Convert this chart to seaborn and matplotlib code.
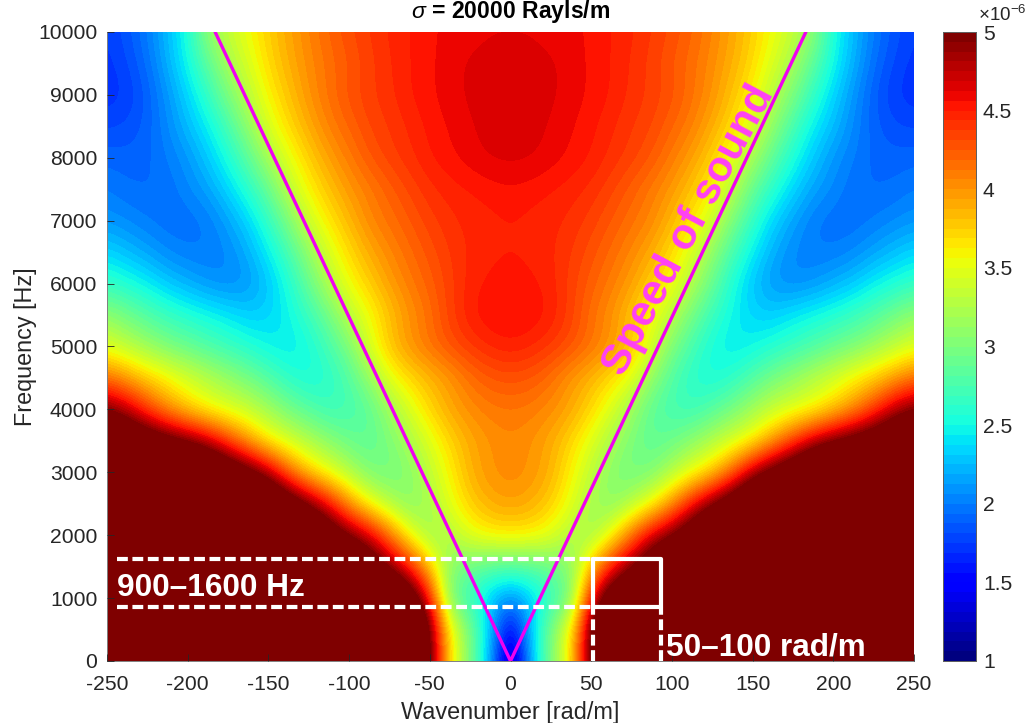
# Wavenumber-frequency map, sigma = 20000 Rayls/m
import numpy as np
import seaborn as sns
import matplotlib.pyplot as plt

# half of the map, the other side is the mirror image (values above 5 saturate on the scale)
k_half = [0, 12.5, 25, 37.5, 50, 62.5, 75, 87.5, 100, 112.5, 125, 137.5, 150, 162.5, 175, 187.5, 200, 212.5, 225, 237.5, 250]
freqs = [10000, 9500, 9000, 8500, 8000, 7500, 7000, 6500, 6000, 5500, 5000, 4500, 4000, 3500, 3000, 2500, 2000, 1500, 1000, 500, 0]

f10000 = [4.62, 4.62, 4.6, 4.58, 4.55, 4.5, 4.45, 4.38, 4.3, 4.2, 4.07, 3.92, 3.75, 3.55, 3.35, 3.1, 2.55, 2.25, 2.0, 1.85, 1.75]
f9500 = [4.65, 4.65, 4.64, 4.6, 4.55, 4.5, 4.43, 4.35, 4.25, 4.15, 4.03, 3.88, 3.7, 3.45, 3.2, 2.85, 2.5, 2.2, 1.95, 1.8, 1.72]
f9000 = [4.66, 4.66, 4.64, 4.6, 4.55, 4.5, 4.42, 4.36, 4.28, 4.15, 4.0, 3.8, 3.6, 3.3, 3.0, 2.65, 2.35, 2.1, 1.88, 1.75, 1.7]
f8500 = [4.66, 4.65, 4.62, 4.57, 4.52, 4.45, 4.38, 4.32, 4.2, 4.08, 3.9, 3.7, 3.45, 3.1, 2.75, 2.45, 2.25, 2.05, 1.9, 1.82, 1.8]
f8000 = [4.65, 4.64, 4.6, 4.55, 4.5, 4.42, 4.35, 4.25, 4.1, 3.95, 3.75, 3.5, 3.2, 2.85, 2.55, 2.3, 2.1, 2.0, 1.92, 1.9, 1.92]
f7500 = [4.55, 4.53, 4.5, 4.47, 4.42, 4.33, 4.22, 4.1, 3.98, 3.8, 3.6, 3.3, 2.9, 2.6, 2.35, 2.15, 2.05, 1.95, 1.93, 1.95, 2.0]
f7000 = [4.5, 4.48, 4.46, 4.42, 4.35, 4.25, 4.15, 4.05, 3.85, 3.65, 3.4, 3.0, 2.65, 2.35, 2.15, 2.0, 1.95, 1.95, 2.0, 2.05, 2.1]
f6500 = [4.5, 4.48, 4.45, 4.38, 4.28, 4.17, 4.05, 3.9, 3.7, 3.45, 3.1, 2.75, 2.45, 2.2, 2.05, 2.0, 2.0, 2.05, 2.15, 2.25, 2.35]
f6000 = [4.54, 4.52, 4.47, 4.35, 4.22, 4.1, 3.95, 3.75, 3.55, 3.25, 2.9, 2.55, 2.28, 2.1, 2.05, 2.1, 2.2, 2.3, 2.45, 2.55, 2.65]
f5500 = [4.57, 4.56, 4.5, 4.35, 4.15, 4.0, 3.8, 3.55, 3.3, 2.95, 2.68, 2.48, 2.34, 2.32, 2.42, 2.5, 2.58, 2.68, 2.8, 2.95, 3.1]
f5000 = [4.5, 4.46, 4.38, 4.28, 4.15, 4.0, 3.8, 3.45, 3.0, 2.75, 2.52, 2.42, 2.48, 2.58, 2.68, 2.78, 2.9, 3.0, 3.15, 3.3, 3.45]
f4500 = [4.28, 4.25, 4.15, 3.98, 3.85, 3.7, 3.5, 3.1, 2.8, 2.6, 2.52, 2.62, 2.8, 2.98, 3.12, 3.28, 3.42, 3.6, 3.75, 3.95, 4.15]
f4000 = [4.12, 4.1, 4.03, 3.92, 3.72, 3.45, 3.15, 2.85, 2.72, 2.68, 2.82, 2.98, 3.18, 3.35, 3.45, 3.55, 3.75, 4.0, 4.35, 4.75, 5.0]
f3500 = [4.05, 4.0, 3.9, 3.72, 3.47, 3.22, 3.0, 2.85, 2.92, 3.08, 3.25, 3.42, 3.6, 3.95, 4.35, 4.75, 5.0, 5.2, 5.4, 5.6, 5.8]
f3000 = [4.05, 4.0, 3.88, 3.6, 3.33, 3.05, 2.95, 3.0, 3.25, 3.5, 3.75, 4.2, 4.8, 5.2, 5.5, 5.8, 6, 6, 6, 6, 6]
f2500 = [3.95, 3.9, 3.75, 3.5, 3.2, 3.05, 3.25, 3.55, 4.0, 4.55, 5.0, 5.4, 5.8, 6, 6, 6, 6, 6, 6, 6, 6]
f2000 = [3.65, 3.62, 3.5, 3.25, 3.15, 3.55, 4.15, 4.7, 5.0, 5.4, 5.8, 6, 6, 6, 6, 6, 6, 6, 6, 6, 6]
f1500 = [2.8, 2.83, 2.92, 3.05, 3.8, 4.5, 4.95, 5.4, 5.8, 6, 6, 6, 6, 6, 6, 6, 6, 6, 6, 6, 6]
f1000 = [2.05, 2.3, 2.65, 2.95, 4.55, 5.4, 5.8, 6, 6, 6, 6, 6, 6, 6, 6, 6, 6, 6, 6, 6, 6]
f500 = [1.35, 2.3, 3.0, 3.6, 5.1, 6, 6, 6, 6, 6, 6, 6, 6, 6, 6, 6, 6, 6, 6, 6, 6]
f0 = [1.0, 2.2, 3.0, 3.65, 5.1, 6, 6, 6, 6, 6, 6, 6, 6, 6, 6, 6, 6, 6, 6, 6, 6]

half = np.array([f10000, f9500, f9000, f8500, f8000, f7500, f7000, f6500, f6000, f5500,
                 f5000, f4500, f4000, f3500, f3000, f2500, f2000, f1500, f1000, f500, f0])
Z = np.hstack([half[:, :0:-1], half])
kx = np.concatenate([-np.array(k_half[:0:-1]), k_half])

x_ticks = [-250, -200, -150, -100, -50, 0, 50, 100, 150, 200, 250]
y_ticks = [0, 1000, 2000, 3000, 4000, 5000, 6000, 7000, 8000, 9000, 10000]
cbar_ticks = [1, 1.5, 2, 2.5, 3, 3.5, 4, 4.5, 5]
sound_k = [-183, 0, 183]
sound_f = [10000, 0, 10000]

dark = "#262626"
sns.set_theme(style="white")
plt.rcParams["font.family"] = ["Liberation Sans", "DejaVu Sans"]
plt.rcParams["mathtext.fontset"] = "custom"
plt.rcParams["mathtext.rm"] = "Liberation Sans"
plt.rcParams["mathtext.it"] = "Liberation Sans:italic"
plt.rcParams["mathtext.bf"] = "Liberation Sans:bold"


# heatmap cells sit at i + 0.5
def xpos(k):
    return (np.asarray(k, dtype=float) - kx[0]) / 12.5 + 0.5


def ypos(f):
    return (freqs[0] - np.asarray(f, dtype=float)) / 500 + 0.5


W, H = 1026, 723
fig = plt.figure(figsize=(W / 100, H / 100), dpi=100)
ax = fig.add_axes([107 / W, 1 - 661 / H, 807 / W, 629 / H])
cax = fig.add_axes([943 / W, 1 - 661 / H, 33 / W, 629 / H])

cmap = plt.get_cmap("jet", 64)
sns.heatmap(Z, ax=ax, cbar_ax=cax, cmap=cmap, vmin=1, vmax=5, xticklabels=False, yticklabels=False,
            cbar_kws={"ticks": cbar_ticks})
# same cells, smoothed
ax.imshow(Z, cmap=cmap, vmin=1, vmax=5, aspect="auto", interpolation="bicubic",
          extent=(0, Z.shape[1], Z.shape[0], 0), zorder=1)

ax.set_axisbelow(False)
ax.set_xlim(xpos(-250), xpos(250))
ax.set_ylim(ypos(0), ypos(10000))
ax.set_xticks(xpos(x_ticks))
ax.set_xticklabels(x_ticks, fontsize=15.2, color=dark, rotation=0)
ax.set_yticks(ypos(y_ticks))
ax.set_yticklabels(y_ticks, fontsize=15.2, color=dark, rotation=0)
ax.tick_params(axis="x", direction="in", length=5, width=0.6, color=dark, pad=10, bottom=True)
ax.tick_params(axis="y", direction="in", length=5, width=0.6, color=dark, pad=7, left=True)
ax.set_xlabel("Wavenumber [rad/m]", fontsize=16.9, color=dark, labelpad=5)
ax.set_ylabel("Frequency [Hz]", fontsize=16.8, color=dark, labelpad=1)
ax.set_title(r"$\sigma$ = 20000 Rayls/m", fontsize=16.6, fontweight="bold", color="black", pad=10)
for s in ["left", "bottom"]:
    ax.spines[s].set_visible(True)
    ax.spines[s].set_color("#808080")
    ax.spines[s].set_linewidth(0.7)

cax.tick_params(direction="in", length=5, width=0.6, color=dark, labelsize=15.2, labelcolor=dark, right=True, pad=5)
cax.set_yticklabels(["1", "1.5", "2", "2.5", "3", "3.5", "4", "4.5", "5"])
for s in cax.spines.values():
    s.set_visible(True)
    s.set_color("#606060")
    s.set_linewidth(0.7)
fig.text(978 / W, 1 - 15 / H, r"$\times 10^{-6}$", fontsize=13.6, color=dark, ha="left", va="center")

# speed of sound
ax.plot(xpos(sound_k), ypos(sound_f), color="#f000f0", lw=2.4, zorder=5)
ax.text(xpos(110.5), ypos(6850), "Speed of sound", color="#ff40f5", fontsize=31, fontweight="bold",
        rotation=62, ha="center", va="center", rotation_mode="anchor", zorder=6)

# frequency and wavenumber band
k1, k2, f1, f2 = 51, 93.2, 860, 1620
ax.plot(xpos([-244, k1]), ypos([f2, f2]), color="white", lw=3, ls=(0, (2.6, 1.1)), zorder=6)
ax.plot(xpos([-244, k1]), ypos([f1, f1]), color="white", lw=3, ls=(0, (2.6, 1.1)), zorder=6)
ax.plot(xpos([k1, k1]), ypos([0, f1]), color="white", lw=3, ls=(0, (2.6, 1.1)), zorder=6)
ax.plot(xpos([k2, k2]), ypos([0, f1]), color="white", lw=3, ls=(0, (2.6, 1.1)), zorder=6)
ax.plot(xpos([k1, k2, k2, k1, k1]), ypos([f2, f2, f1, f1, f2]), color="white", lw=3, zorder=7)
ax.text(xpos(-244), ypos(1160), "900\u20131600 Hz", color="white", fontsize=22.8, fontweight="bold",
        ha="left", va="center", zorder=7)
ax.text(xpos(96.5), ypos(220), "50\u2013100 rad/m", color="white", fontsize=22.7, fontweight="bold",
        ha="left", va="center", zorder=7)

fig.savefig("out.png", dpi=100)
